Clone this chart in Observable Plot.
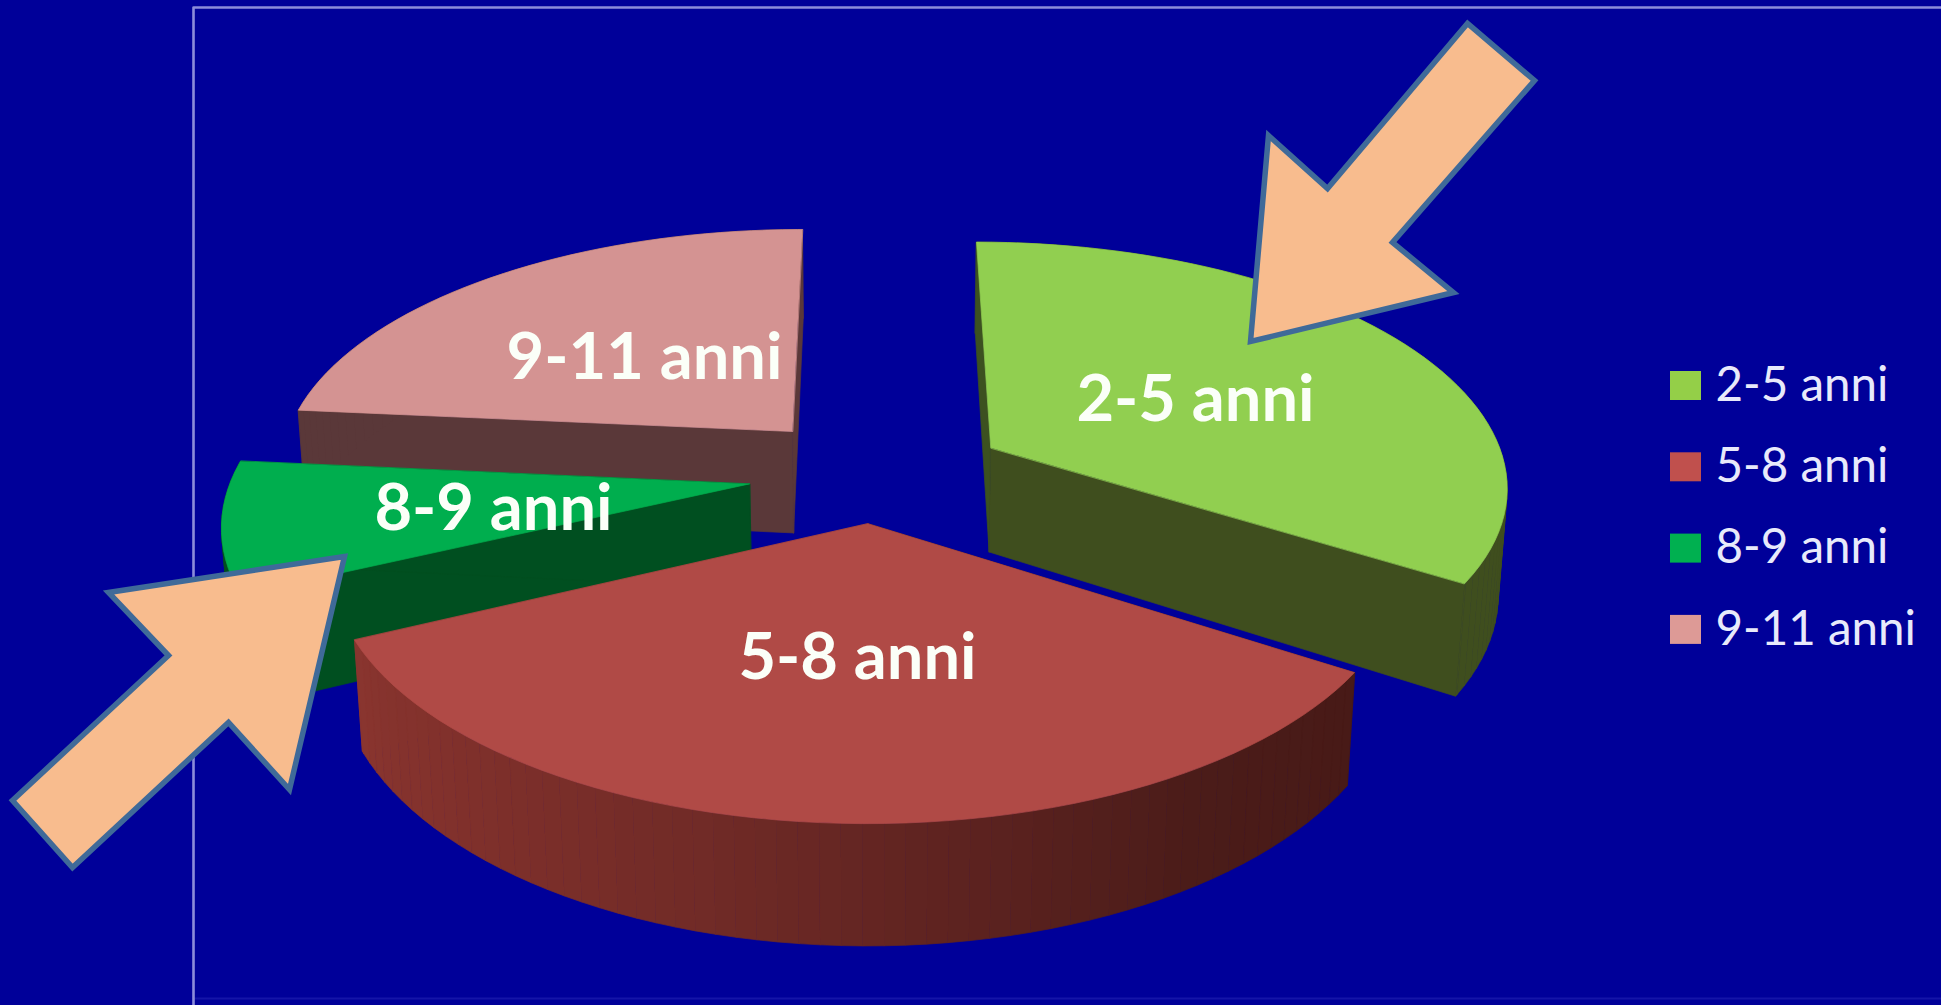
<!DOCTYPE html>
<html lang="it">
<head>
<meta charset="utf-8">
<title>Fasce di età</title>
<style>
  html, body { margin: 0; padding: 0; background: #000099; overflow: hidden; }
  svg { display: block; }
</style>
<script src="https://cdn.jsdelivr.net/npm/d3@7"></script>
<script src="https://cdn.jsdelivr.net/npm/@observablehq/plot@0.6"></script>
</head>
<body>
<div id="chart"></div>
<script>
// Share of each age group, in percent
const ageGroups = ["2-5 anni", "5-8 anni", "8-9 anni", "9-11 anni"];
const shares = [34, 34, 8.5, 23.5];

// Slice colours: top face, legend swatch, wall shades running along the rim
const topColors = ["#91CF50", "#B04A46", "#00AE4E", "#D49392"];
const swatchColors = ["#94CF48", "#C0504D", "#00B050", "#DD9A96"];
const wallShades = [
  ["#3C5120", "#3F4E1E"],
  ["#481A17", "#4B1C19", "#5E2320", "#722B27", "#7F302B", "#8A352F"],
  ["#004F20", "#004F20"],
  ["#5A3839", "#5A3839"]
];
const labelColor = "#FBFFF8";

// Where each slice name sits on the chart, how far the slice is pulled out, how thick it is
const labelX = [1195, 857, 493, 644];
const labelY = [400, 658, 509, 358];
const explode = [0.079, 0.059, 0.074, 0.0733];
const settle = [-0.0052, -0.002, 0, 0];
const thickness = [1.062, 1.0595, 1.061, 1.061];
const drawOrder = [3, 2, 0, 1];

// Highlight arrows and the plot-area border
const upperArrowX = [1250, 1268, 1327, 1467, 1534, 1392, 1453];
const upperArrowY = [341, 135, 188, 23, 80, 242, 292];
const lowerArrowX = [344, 108, 168, 12, 72, 228, 289];
const lowerArrowY = [556, 592, 655, 800, 867, 722, 789];
const borderX = [1941, 193, 193];
const borderY = [7, 7, 1005];
const footX = [193, 1941];
const footY = [998, 998];

// Camera of the tilted pie: horizon, vanishing points, disc placement
const W = 1941, H = 1005;
const centerX = 874, horizon = -1232, nadir = 8000;
const planeScale = 3644;
const discZ = 2.137, radius = 0.303;

const rad = d3.scaleLinear().domain([0, 360]).range([0, 2 * Math.PI]);
const total = d3.sum(shares);
const ends = d3.cumsum(shares).map((s) => (s / total) * 360);
const starts = ends.map((_, i) => (i ? ends[i - 1] : 0));

// Top surface of the disc to the picture plane
function upperPoint(px, pz) {
  const depth = planeScale / pz;
  return [centerX + px * depth, horizon + depth];
}
// The same point on the underside: walls converge toward the nadir
function lowerPoint(px, pz, i) {
  const [x, y] = upperPoint(px, pz);
  const yb = horizon + (y - horizon) * thickness[i];
  return [x + ((centerX - x) * (yb - y)) / (nadir - y), yb];
}

const faces = [];
function addFace(name, color, pts) {
  for (const [x, y] of pts) faces.push({ face: name, color, x, y });
}

for (const i of drawOrder) {
  const mid = rad((starts[i] + ends[i]) / 2);
  const ax = explode[i] * Math.sin(mid);
  const az = discZ + settle[i] + explode[i] * Math.cos(mid);
  const rim = (deg) => [ax + radius * Math.sin(rad(deg)), az + radius * Math.cos(rad(deg))];
  const ramp = d3.piecewise(d3.interpolateRgb, wallShades[i]);

  // Cut faces along the two radii
  for (const [deg, c, tag] of [[starts[i], ramp(0), "a"], [ends[i], ramp(1), "b"]]) {
    const r = rim(deg);
    addFace(`s${i}-cut-${tag}`, c, [
      upperPoint(ax, az), upperPoint(...r), lowerPoint(...r, i), lowerPoint(ax, az, i)
    ]);
  }
  // Curved outer wall, shaded strip by strip
  const steps = d3.range(starts[i], ends[i], 2).concat(ends[i]);
  d3.pairs(steps).forEach(([a, b], k) => {
    const ra = rim(a), rb = rim(b);
    const t = (a - starts[i]) / (ends[i] - starts[i]);
    addFace(`s${i}-wall-${k}`, ramp(t), [
      upperPoint(...ra), upperPoint(...rb), lowerPoint(...rb, i), lowerPoint(...ra, i)
    ]);
  });
  // Top face
  addFace(`s${i}-top`, topColors[i], [upperPoint(ax, az), ...steps.map((d) => upperPoint(...rim(d)))]);
}

const arrow = (xs, ys, name) => xs.map((x, k) => ({ name, x, y: ys[k] }));
const arrows = [
  ...arrow(upperArrowX, upperArrowY, "upper"),
  ...arrow(lowerArrowX, lowerArrowY, "lower")
];
const border = borderX.map((x, k) => ({ x, y: borderY[k] }));
const foot = footX.map((x, k) => ({ x, y: footY[k] }));

const sliceLabels = ageGroups.map((name, i) => ({ name, x: labelX[i], y: labelY[i] }));
const legendRows = ageGroups.map((name, i) => ({
  name,
  color: swatchColors[i],
  x1: 1670, x2: 1701,
  y1: 371 + i * 81.3, y2: 400 + i * 81.3,
  tx: 1715, ty: 385 + i * 81.3
}));

const chart = Plot.plot({
  width: W,
  height: H,
  margin: 0,
  x: { domain: [0, W], range: [0, W], axis: null },
  y: { domain: [0, H], range: [0, H], axis: null },
  color: { type: "identity" },
  style: { background: "#000099" },
  marks: [
    Plot.line(foot, { x: "x", y: "y", stroke: "#1414A8", strokeWidth: 2 }),
    Plot.line(border, { x: "x", y: "y", stroke: "#8C8CDA", strokeWidth: 2.6 }),
    Plot.line(faces, {
      x: "x", y: "y", z: "face",
      fill: "color", stroke: "color", strokeWidth: 0.7,
      curve: "linear-closed"
    }),
    Plot.text(sliceLabels, {
      x: "x", y: "y", text: "name",
      fill: labelColor, fontFamily: "Lato", fontWeight: 700, fontSize: 65
    }),
    Plot.line(arrows, {
      x: "x", y: "y", z: "name",
      fill: "#F8BC8E", stroke: "#3F6A99", strokeWidth: 5.5,
      strokeLinejoin: "miter", strokeMiterlimit: 10,
      curve: "linear-closed"
    }),
    Plot.rect(legendRows, { x1: "x1", x2: "x2", y1: "y1", y2: "y2", fill: "color" }),
    Plot.text(legendRows, {
      x: "tx", y: "ty", text: "name", textAnchor: "start",
      fill: "#E8EAFB", fontFamily: "Lato", fontSize: 47.5
    })
  ]
});
document.getElementById("chart").append(chart);
</script>
</body>
</html>
